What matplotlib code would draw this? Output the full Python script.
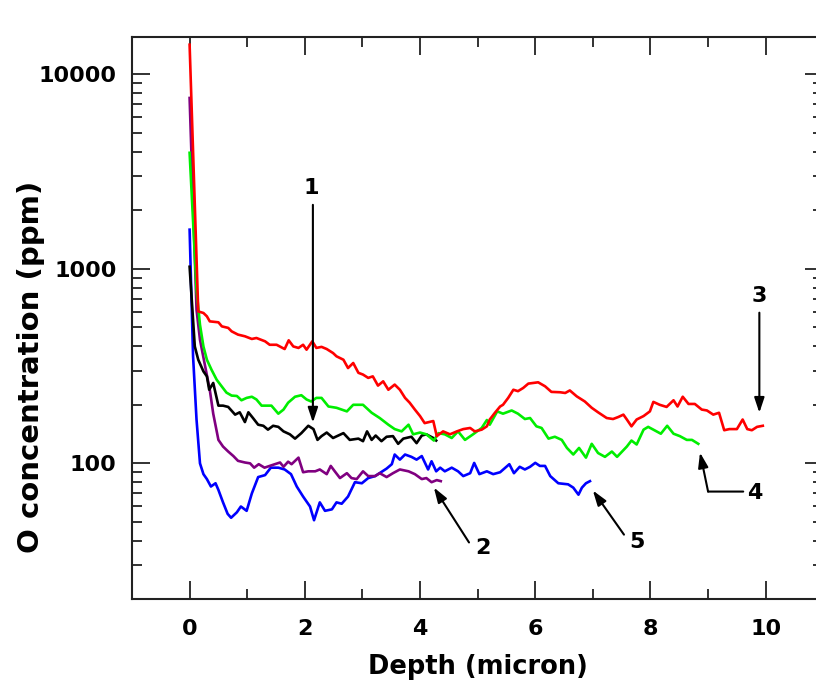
import matplotlib
matplotlib.use("Agg")
import matplotlib.pyplot as plt
from matplotlib.ticker import LogLocator, MultipleLocator, NullFormatter

plt.rcParams['font.family'] = ['DejaVu Sans']
plt.rcParams['font.weight'] = 'bold'

# --- data (depth in micron, O in ppm)
depth_1 = [0.0, 0.09, 0.15, 0.24, 0.30, 0.34, 0.41, 0.50, 0.58, 0.67, 0.79, 0.87, 0.96, 1.02, 1.10,
           1.19, 1.28, 1.36, 1.45, 1.54, 1.63, 1.74, 1.83, 1.94, 2.06, 2.15, 2.22, 2.29, 2.38, 2.49,
           2.67, 2.78, 2.93, 3.01, 3.08, 3.16, 3.23, 3.33, 3.42, 3.53, 3.62, 3.71, 3.85, 3.94, 4.03,
           4.11, 4.23, 4.28]
ppm_1 = [1025, 399, 341, 297, 280, 239, 259, 198, 198, 195, 178, 183, 163, 183, 171,
         158, 156, 149, 156, 154, 146, 141, 134, 143, 156, 150, 132, 138, 144, 135,
         143, 132, 134, 130, 146, 132, 139, 130, 137, 138, 126, 134, 137, 127, 139,
         141, 135, 131]

depth_2 = [0.0, 0.12, 0.18, 0.27, 0.35, 0.41, 0.50, 0.58, 0.67, 0.76, 0.84, 0.96, 1.05, 1.12, 1.20,
           1.30, 1.39, 1.48, 1.57, 1.63, 1.71, 1.77, 1.89, 1.97, 2.06, 2.18, 2.26, 2.38, 2.45, 2.52,
           2.61, 2.73, 2.81, 2.90, 3.01, 3.10, 3.22, 3.30, 3.42, 3.53, 3.65, 3.80, 3.91, 4.03, 4.11,
           4.20, 4.29, 4.36]
ppm_2 = [7560, 617, 432, 315, 239, 180, 132, 122, 115, 109, 103, 101, 100, 95, 99,
         95, 97, 99, 101, 96, 102, 99, 107, 90, 91, 91, 93, 88, 97, 91,
         84, 89, 84, 83, 91, 86, 86, 89, 85, 89, 93, 91, 88, 83, 84,
         80, 82, 81]

depth_3 = [0.0, 0.15, 0.24, 0.30, 0.35, 0.50, 0.56, 0.67, 0.73, 0.84, 0.96, 1.08, 1.16, 1.31, 1.39,
           1.51, 1.65, 1.72, 1.80, 1.89, 1.97, 2.03, 2.13, 2.20, 2.29, 2.38, 2.49, 2.55, 2.67, 2.75,
           2.84, 2.93, 3.01, 3.10, 3.18, 3.27, 3.36, 3.45, 3.56, 3.65, 3.74, 3.82, 3.91, 4.00, 4.08,
           4.23, 4.29, 4.40, 4.52, 4.64, 4.75, 4.87, 4.95, 5.07, 5.16, 5.21, 5.30, 5.39, 5.44, 5.53,
           5.62, 5.70, 5.79, 5.88, 6.05, 6.17, 6.28, 6.43, 6.52, 6.60, 6.72, 6.86, 6.98, 7.09, 7.24,
           7.35, 7.44, 7.53, 7.59, 7.67, 7.76, 7.88, 7.99, 8.05, 8.16, 8.28, 8.40, 8.47, 8.56, 8.66,
           8.77, 8.89, 8.98, 9.09, 9.19, 9.28, 9.37, 9.50, 9.60, 9.68, 9.76, 9.85, 9.95]
ppm_3 = [14200, 604, 593, 570, 537, 531, 506, 497, 477, 459, 450, 436, 441, 424, 407,
         407, 387, 429, 399, 392, 407, 384, 424, 392, 397, 387, 369, 355, 341, 309,
         328, 292, 286, 275, 280, 251, 264, 239, 254, 239, 217, 205, 189, 175, 161,
         165, 138, 146, 141, 146, 150, 152, 146, 149, 155, 168, 182, 196, 200, 217,
         239, 235, 244, 257, 261, 249, 233, 232, 230, 237, 221, 208, 193, 183, 171,
         169, 173, 178, 168, 155, 168, 175, 185, 207, 200, 195, 211, 196, 220, 202,
         202, 189, 187, 178, 182, 148, 150, 150, 168, 150, 148, 154, 156]

depth_4 = [0.0, 0.12, 0.18, 0.24, 0.30, 0.38, 0.47, 0.56, 0.64, 0.73, 0.82, 0.90, 0.99, 1.08, 1.16,
           1.25, 1.42, 1.54, 1.63, 1.71, 1.83, 1.94, 2.03, 2.11, 2.20, 2.29, 2.41, 2.55, 2.73, 2.84,
           3.01, 3.16, 3.30, 3.45, 3.56, 3.68, 3.80, 3.88, 4.00, 4.11, 4.24, 4.32, 4.43, 4.55, 4.66,
           4.78, 4.92, 5.07, 5.16, 5.21, 5.34, 5.44, 5.59, 5.70, 5.82, 5.91, 6.02, 6.11, 6.23, 6.34,
           6.46, 6.55, 6.66, 6.76, 6.88, 6.98, 7.09, 7.21, 7.33, 7.42, 7.59, 7.67, 7.76, 7.88, 7.96,
           8.05, 8.18, 8.29, 8.40, 8.51, 8.63, 8.72, 8.83]
ppm_4 = [3950, 781, 516, 399, 341, 303, 269, 248, 231, 223, 222, 211, 217, 220, 213,
         198, 198, 180, 189, 205, 220, 224, 213, 208, 217, 217, 196, 193, 185, 200,
         200, 182, 171, 158, 150, 146, 158, 141, 144, 141, 131, 143, 141, 135, 146,
         132, 141, 152, 167, 158, 185, 180, 187, 180, 169, 171, 155, 152, 134, 137,
         132, 120, 111, 120, 107, 126, 113, 108, 115, 108, 122, 131, 125, 149, 154,
         149, 142, 156, 142, 138, 132, 132, 126]

depth_5 = [0.0, 0.06, 0.12, 0.18, 0.24, 0.30, 0.37, 0.45, 0.50, 0.58, 0.66, 0.72, 0.82, 0.89, 0.99,
           1.08, 1.19, 1.31, 1.41, 1.54, 1.65, 1.76, 1.86, 1.97, 2.09, 2.16, 2.26, 2.35, 2.47, 2.55,
           2.64, 2.75, 2.87, 2.99, 3.10, 3.22, 3.42, 3.51, 3.56, 3.65, 3.74, 3.85, 3.94, 4.03, 4.14,
           4.20, 4.28, 4.35, 4.43, 4.55, 4.66, 4.75, 4.87, 4.94, 5.03, 5.16, 5.27, 5.39, 5.55, 5.63,
           5.73, 5.82, 5.91, 6.00, 6.08, 6.17, 6.26, 6.40, 6.57, 6.66, 6.75, 6.81, 6.88, 6.95]
ppm_5 = [1590, 355, 168, 100, 88, 83, 76, 79, 73, 63, 55, 52.5, 56, 60, 57,
         70, 85, 87, 95, 95, 93, 88, 76, 67.5, 60, 51, 63, 57, 58, 63,
         62, 67.5, 80, 79, 84, 86, 94, 99, 111, 104.5, 111, 108, 104.5, 109, 93,
         102.5, 91, 95, 91, 95, 91, 86, 89, 100.5, 88, 91, 88, 90, 99, 89,
         96, 93, 96, 100.6, 97, 97, 86, 79, 78, 75, 69, 75, 79, 81]

series = [
    (depth_1, ppm_1, "black"),
    (depth_2, ppm_2, "#800080"),
    (depth_3, ppm_3, "#ff0000"),
    (depth_4, ppm_4, "#00ee00"),
    (depth_5, ppm_5, "#0000ff"),
]

fig = plt.figure(figsize=(8.16, 6.9), dpi=100)
ax = fig.add_axes([132 / 816, 90.7 / 690, 691.3 / 816, 562 / 690])

for d, p, c in [series[4], series[1], series[0], series[3], series[2]]:
    ax.plot(d, p, color=c, lw=1.9, solid_joinstyle="round")

ax.set_yscale("log")
ax.set_xlim(-1, 11)
ax.set_ylim(20, 15500)

ax.xaxis.set_major_locator(MultipleLocator(2))
ax.xaxis.set_minor_locator(MultipleLocator(1))
ax.yaxis.set_minor_locator(LogLocator(base=10, subs=range(2, 10), numticks=20))
ax.yaxis.set_minor_formatter(NullFormatter())
ax.set_yticks([100, 1000, 10000])
ax.set_yticklabels(["100", "1000", "10000"])

ax.tick_params(which="both", direction="in", top=True, right=True, width=1.3, color="#222222")
ax.tick_params(which="major", length=13)
ax.tick_params(which="minor", length=7)
ax.tick_params(axis="y", which="major", pad=11, labelsize=16)
ax.tick_params(axis="x", which="major", pad=14, labelsize=16)
for lab in ax.get_xticklabels() + ax.get_yticklabels():
    lab.set_fontweight("bold")

for s in ax.spines.values():
    s.set_linewidth(1.5)
    s.set_color("#222222")

ax.set_xlabel("Depth (micron)", fontsize=18.5, fontweight="bold")
ax.xaxis.set_label_coords(0.501, -0.098)
ax.set_ylabel("O concentration (ppm)", fontsize=21, fontweight="bold")
ax.yaxis.set_label_coords(-0.126, 0.413)

arrow = dict(arrowstyle="-|>,head_length=0.9,head_width=0.3", color="black", lw=1.5,
             shrinkA=0, shrinkB=0)
txt = dict(fontsize=16, fontweight="bold", ha="center", va="center")

ax.text(2.12, 2610, "1", **txt)
ax.annotate("", xy=(2.14, 162), xytext=(2.14, 2133), arrowprops=arrow)

ax.text(5.09, 36.9, "2", **txt)
ax.annotate("", xy=(4.24, 75.1), xytext=(4.85, 39.2), arrowprops=arrow)

ax.text(9.88, 728, "3", **txt)
ax.annotate("", xy=(9.89, 182), xytext=(9.89, 595), arrowprops=arrow)

ax.text(9.81, 70, "4", **txt)
ax.annotate("", xy=(9.0, 71.6), xytext=(9.61, 71.6),
            arrowprops=dict(arrowstyle="-", color="black", lw=1.5, shrinkA=0, shrinkB=0))
ax.annotate("", xy=(8.86, 113.6), xytext=(9.0, 71.6), arrowprops=arrow)

ax.text(7.77, 39.6, "5", **txt)
ax.annotate("", xy=(7.0, 72.5), xytext=(7.54, 43), arrowprops=arrow)

fig.savefig("out.png", dpi=100)
